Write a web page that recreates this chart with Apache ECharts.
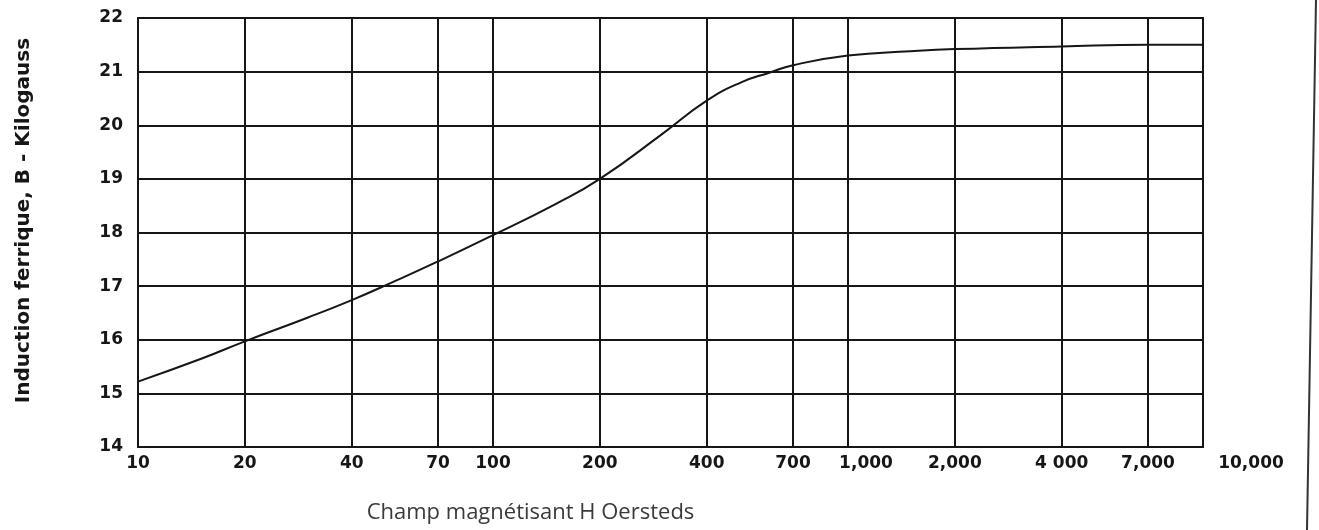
<!DOCTYPE html>
<html>
<head>
<meta charset="utf-8">
<script src="https://cdn.jsdelivr.net/npm/echarts@6/dist/echarts.min.js"></script>
<style>
  html, body { margin: 0; padding: 0; background: #ffffff; }
  #chart { width: 1319px; height: 530px; }
</style>
</head>
<body>
<div id="chart"></div>
<script>
// Magnetizing field H (Oersteds) – x values
var fieldH = [10, 15, 20, 30, 40, 52, 70, 100, 150, 200, 300, 400, 500, 600, 700, 1000, 1500, 2000, 4000, 7000, 10000];
// Induction B (Kilogauss) – y values
var inductionB = [15.22, 15.64, 15.97, 16.41, 16.74, 17.07, 17.46, 17.95, 18.53, 19.0, 19.84, 20.46, 20.8, 20.98, 21.12, 21.3, 21.38, 21.42, 21.47, 21.5, 21.5];

// X tick values and their printed labels
var xTickValues = [10, 20, 40, 70, 100, 200, 400, 700, 1000, 2000, 4000, 7000, 10000];
var xTickLabels = ['10', '20', '40', '70', '100', '200', '400', '700', '1,000', '2,000', '4 000', '7,000', '10,000'];

var yTitle = 'Induction ferrique, B - Kilogauss';
var xTitle = 'Champ magnétisant H Oersteds';

var xMin = 10, xMax = 10000;
var seriesData = fieldH.map(function (h, i) { return [h, inductionB[i]]; });
// keep the end ticks just inside the axis extent (floating-point safety)
var xTickPositions = xTickValues.map(function (v) {
  return Math.min(Math.max(v, xMin * (1 + 1e-9)), xMax * (1 - 1e-9));
});

function labelIndex(v) {
  var best = 0, bestD = Infinity;
  for (var i = 0; i < xTickValues.length; i++) {
    var d = Math.abs(Math.log(v) - Math.log(xTickValues[i]));
    if (d < bestD) { bestD = d; best = i; }
  }
  return best;
}

var ink = '#161616';
var tickFont = { fontFamily: 'DejaVu Sans', fontWeight: 'bold', fontSize: 17, color: ink };

var chart = echarts.init(document.getElementById('chart'), null, { renderer: 'canvas' });
chart.setOption({
  animation: false,
  backgroundColor: '#ffffff',
  grid: {
    left: 138, right: 116, top: 18, bottom: 83, containLabel: false,
    show: true, borderColor: ink, borderWidth: 2, backgroundColor: 'transparent'
  },
  xAxis: {
    type: 'log',
    logBase: 10,
    min: xMin,
    max: xMax,
    name: xTitle,
    nameLocation: 'middle',
    nameGap: 55,
    nameTextStyle: {
      fontFamily: 'Open Sans', fontSize: 22, color: '#3a3a3a',
      padding: [0, 280, 0, 0]
    },
    axisLine: { show: true, lineStyle: { color: ink, width: 2 } },
    axisTick: { show: false, customValues: xTickPositions },
    axisLabel: {
      customValues: xTickPositions,
      formatter: function (v) {
        var i = labelIndex(v);
        var key = (i === 8) ? 'b' : (i === 12 ? 'c' : 'a');
        return '{' + key + '|' + xTickLabels[i] + '}';
      },
      rich: {
        a: tickFont,
        b: Object.assign({ padding: [0, 0, 0, 36] }, tickFont),
        c: Object.assign({ padding: [0, 0, 0, 96] }, tickFont)
      },
      margin: 8
    },
    splitLine: { show: true, lineStyle: { color: ink, width: 2 } },
    minorTick: { show: false },
    minorSplitLine: { show: false }
  },
  yAxis: {
    type: 'value',
    min: 14,
    max: 22,
    interval: 1,
    name: yTitle,
    nameLocation: 'middle',
    nameGap: 104,
    nameRotate: 90,
    nameTextStyle: {
      fontFamily: 'DejaVu Sans', fontWeight: 'bold', fontSize: 20, color: ink,
      padding: [0, 0, 0, 24]
    },
    axisLine: { show: true, lineStyle: { color: ink, width: 2 } },
    axisTick: { show: false },
    axisLabel: Object.assign({ margin: 15 }, tickFont),
    splitLine: { show: true, lineStyle: { color: ink, width: 2 } }
  },
  graphic: [
    {
      type: 'line',
      shape: { x1: 1316, y1: 0, x2: 1307, y2: 530 },
      style: { stroke: '#333333', lineWidth: 2 },
      silent: true
    }
  ],
  series: [{
    type: 'line',
    data: seriesData,
    smooth: 0.5,
    showSymbol: false,
    lineStyle: { color: ink, width: 2 },
    itemStyle: { color: ink }
  }]
});
</script>
</body>
</html>
